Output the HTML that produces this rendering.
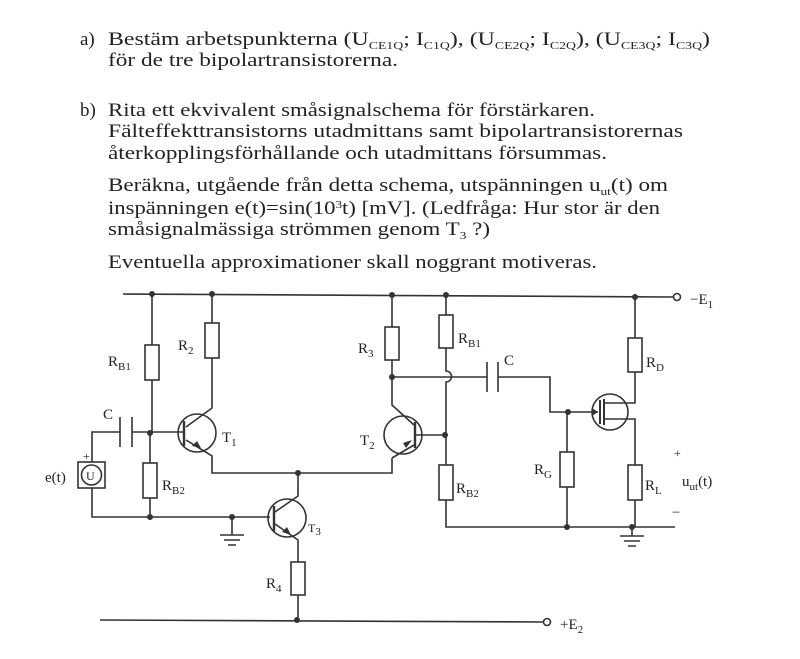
<!DOCTYPE html>
<html><head><meta charset="utf-8"><style>
body{margin:0;background:#fff;}
svg{display:block;}
text{font-family:"Liberation Serif",serif;fill:#222;}
.t{font-size:19px;}
.l{font-size:15px;}
.s{font-size:11px;}
</style></head><body>
<svg width="800" height="659" viewBox="0 0 800 659" xmlns="http://www.w3.org/2000/svg">
<g class="t">
<text x="80" y="45">a)</text>
<text x="108" y="45" textLength="602" lengthAdjust="spacingAndGlyphs">Bestäm arbetspunkterna (U<tspan class="s" dy="4">CE1Q</tspan><tspan dy="-4">; I</tspan><tspan class="s" dy="4">C1Q</tspan><tspan dy="-4">), (U</tspan><tspan class="s" dy="4">CE2Q</tspan><tspan dy="-4">; I</tspan><tspan class="s" dy="4">C2Q</tspan><tspan dy="-4">), (U</tspan><tspan class="s" dy="4">CE3Q</tspan><tspan dy="-4">; I</tspan><tspan class="s" dy="4">C3Q</tspan><tspan dy="-4">)</tspan></text>
<text x="108" y="66" textLength="290" lengthAdjust="spacingAndGlyphs">för de tre bipolartransistorerna.</text>
<text x="80" y="116">b)</text>
<text x="108" y="116" textLength="487" lengthAdjust="spacingAndGlyphs">Rita ett ekvivalent småsignalschema för förstärkaren.</text>
<text x="108" y="137" textLength="575" lengthAdjust="spacingAndGlyphs">Fälteffekttransistorns utadmittans samt bipolartransistorernas</text>
<text x="108" y="159" textLength="499" lengthAdjust="spacingAndGlyphs">återkopplingsförhållande och utadmittans försummas.</text>
<text x="108" y="191" textLength="560" lengthAdjust="spacingAndGlyphs">Beräkna, utgående från detta schema, utspänningen u<tspan class="s" dy="4">ut</tspan><tspan dy="-4">(t) om</tspan></text>
<text x="108" y="214" textLength="552" lengthAdjust="spacingAndGlyphs">inspänningen e(t)=sin(10<tspan class="s" dy="-6">3</tspan><tspan dy="6">t)  [mV]. (Ledfråga: Hur stor är den</tspan></text>
<text x="108" y="235" textLength="382" lengthAdjust="spacingAndGlyphs">småsignalmässiga strömmen genom T<tspan class="s" dy="4">3</tspan><tspan dy="-4"> ?)</tspan></text>
<text x="108" y="268" textLength="489" lengthAdjust="spacingAndGlyphs">Eventuella approximationer skall noggrant motiveras.</text>
</g>
<g stroke="#333" stroke-width="1.6" fill="none">
<path d="M123 294 L673 297"/>
<circle cx="677" cy="297" r="3.5" fill="#fff"/>
<path d="M100 620 L543 622"/>
<circle cx="547" cy="622" r="3.5" fill="#fff"/>
<path d="M152 294 V345 M152 380 V433 M150 433 V463 M150 498 V517"/>
<rect x="145" y="345" width="14" height="35"/>
<rect x="143" y="463" width="14" height="35"/>
<path d="M92 462 V432 H120 M120 417 V447 M132 417 V447 M132 432 H183"/>
<rect x="78" y="462" width="27" height="26"/>
<circle cx="91.5" cy="475" r="10"/>
<path d="M92 488 V517 H270"/>
<path d="M232 517 V535 M220 535 H244 M224 540 H240 M228 545 H236"/>
<path d="M212 294 V323 M212 358 V408 L186 427 M186 440 L212 456 V473 H392 V458"/>
<rect x="205" y="323" width="14" height="35"/>
<circle cx="197" cy="433" r="19"/>
<path d="M184 421 V446" stroke-width="2.4"/>
<circle cx="287" cy="518" r="19"/>
<path d="M274 506 V531" stroke-width="2.4"/>
<path d="M298 473 V496 L275 512 M275 524 L298 540 V562 M298 595 V620"/>
<rect x="291" y="562" width="14" height="33"/>
<path d="M392 294 V327 M392 360 V405 L414 425 M414 445 L392 458"/>
<rect x="385" y="327" width="14" height="33"/>
<circle cx="403" cy="435" r="19"/>
<path d="M415 422 V448" stroke-width="2.4"/>
<path d="M415 435 H445"/>
<path d="M446 294 V315 M446 348 V371 A5 5 0 0 1 446 382 V465 M446 500 V527 H675"/>
<rect x="439" y="315" width="14" height="33"/>
<rect x="439" y="465" width="14" height="35"/>
<path d="M392 377 H487 M487 362 V392 M498 362 V392 M498 377 H550 V412 H598"/>
<path d="M567 412 V452 M567 487 V527"/>
<rect x="560" y="452" width="14" height="35"/>
<circle cx="610" cy="412" r="18"/>
<path d="M600 400 V424" stroke-width="2"/>
<path d="M604 399 V425" stroke-width="2"/>
<path d="M604 403 H635 V372 M635 338 V297 M604 419 H635 V465 M635 500 V527"/>
<rect x="628" y="338" width="14" height="34"/>
<rect x="628" y="465" width="14" height="35"/>
<path d="M632 527 V536 M620 536 H644 M624 541 H640 M628 546 H636"/>
</g>
<g fill="#333" stroke="none">
<path d="M201 448 L192 446 L197 441 Z"/>
<path d="M291 535 L282 532 L287 527 Z"/>
<path d="M412 440 L406 448 L403 443 Z"/>
<path d="M598 412 L592 408 L592 416 Z"/>
</g>
<g fill="#333">
<circle cx="152" cy="294" r="3"/><circle cx="212" cy="294" r="3"/><circle cx="392" cy="295" r="3"/><circle cx="446" cy="295" r="3"/><circle cx="635" cy="297" r="3"/>
<circle cx="150" cy="433" r="3"/><circle cx="150" cy="517" r="3"/><circle cx="232" cy="517" r="3"/><circle cx="298" cy="473" r="3"/><circle cx="297" cy="620" r="3"/>
<circle cx="392" cy="377" r="3"/><circle cx="445" cy="435" r="3"/><circle cx="568" cy="412" r="3"/><circle cx="567" cy="527" r="3"/><circle cx="632" cy="527" r="3"/>
</g>
<g class="l">
<text x="108" y="366">R<tspan class="s" dy="4">B1</tspan></text>
<text x="178" y="350">R<tspan class="s" dy="4">2</tspan></text>
<text x="103" y="419">C</text>
<text x="222" y="442">T<tspan class="s" dy="4">1</tspan></text>
<text x="162" y="490">R<tspan class="s" dy="4">B2</tspan></text>
<text x="83" y="460" style="font-size:12px">+</text>
<text x="86" y="480" style="font-size:12px">U</text>
<text x="45" y="482">e(t)</text>
<text x="308" y="532" style="font-size:12px">T<tspan class="s" dy="3">3</tspan></text>
<text x="266" y="588">R<tspan class="s" dy="4">4</tspan></text>
<text x="358" y="353">R<tspan class="s" dy="4">3</tspan></text>
<text x="360" y="445">T<tspan class="s" dy="4">2</tspan></text>
<text x="458" y="343">R<tspan class="s" dy="4">B1</tspan></text>
<text x="504" y="365">C</text>
<text x="456" y="493">R<tspan class="s" dy="4">B2</tspan></text>
<text x="534" y="474">R<tspan class="s" dy="4">G</tspan></text>
<text x="646" y="367">R<tspan class="s" dy="4">D</tspan></text>
<text x="645" y="490">R<tspan class="s" dy="4">L</tspan></text>
<text x="674" y="457" style="font-size:12px">+</text>
<text x="682" y="486">u<tspan class="s" dy="4">ut</tspan><tspan dy="-4">(t)</tspan></text>
<text x="672" y="517">−</text>
<text x="690" y="304">−E<tspan class="s" dy="4">1</tspan></text>
<text x="560" y="629">+E<tspan class="s" dy="4">2</tspan></text>
</g>
</svg>
</body></html>
